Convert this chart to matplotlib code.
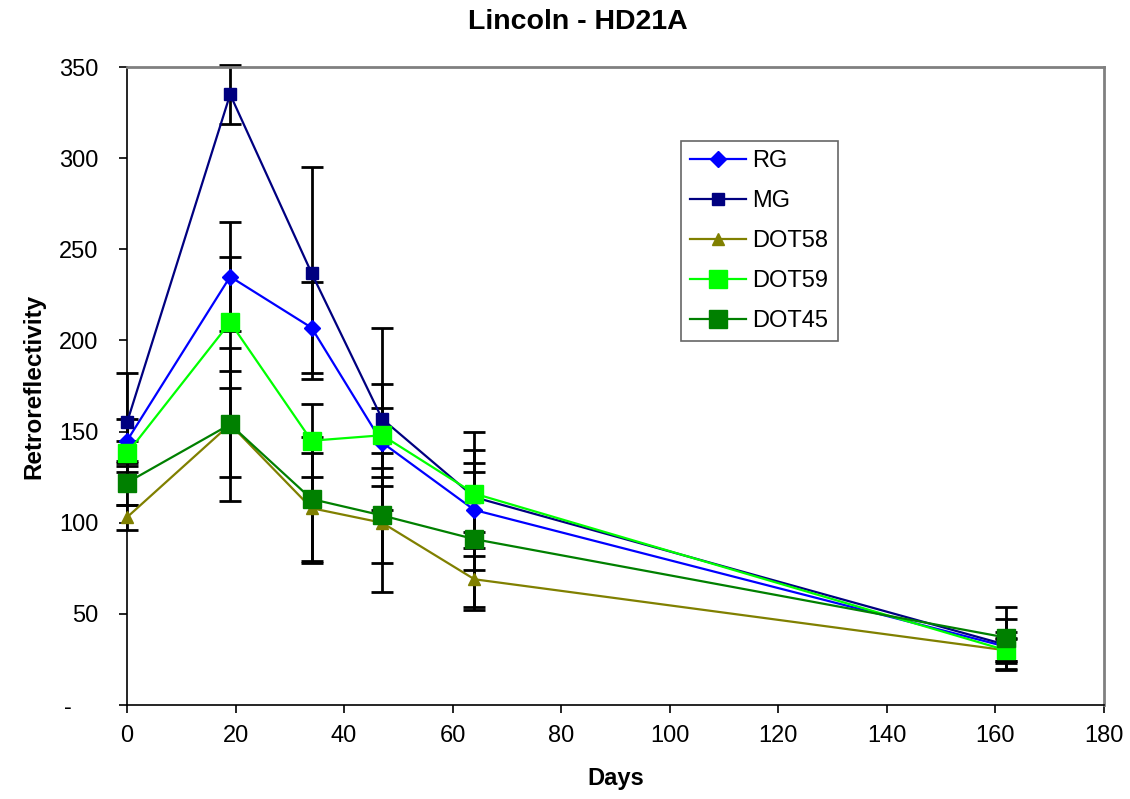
import matplotlib

matplotlib.use("Agg")

import matplotlib.pyplot as plt
from matplotlib.ticker import FuncFormatter

plt.rcParams["font.family"] = ["Liberation Sans", "DejaVu Sans"]

days = [0, 19, 34, 47, 64, 162]

rg = [145, 235, 207, 144, 107, 32]
mg = [155, 335, 237, 157, 114, 33]
dot58 = [103, 154, 108, 100, 69, 30]
dot59 = [138, 210, 145, 148, 116, 30]
dot45 = [122, 154, 113, 104, 91, 37]

rg_err = [12, 30, 25, 19, 33, 8]
mg_err = [27, 16, 58, 50, 19, 14]
dot58_err = [7, 29, 30, 38, 17, 7]
dot59_err = [7, 36, 20, 28, 34, 6]
dot45_err = [12, 42, 34, 26, 37, 17]

series = [
    ("RG", rg, rg_err, "#0000FF", "D", 8),
    ("MG", mg, mg_err, "#000080", "s", 8),
    ("DOT58", dot58, dot58_err, "#808000", "^", 9),
    ("DOT59", dot59, dot59_err, "#00FF00", "s", 13),
    ("DOT45", dot45, dot45_err, "#008000", "s", 13),
]

fig = plt.figure(figsize=(11.3, 7.99), dpi=100)
ax = fig.add_axes([0.1124, 0.1176, 0.8646, 0.7985])

# error bars first so the markers sit on top of them
for name, vals, err, color, marker, ms in series:
    ax.errorbar(days, vals, yerr=err, fmt="none", ecolor="black",
                elinewidth=2, capsize=8, capthick=2, zorder=2, clip_on=False)

for name, vals, err, color, marker, ms in series:
    ax.plot(days, vals, color=color, lw=1.6, marker=marker, ms=ms,
            mec=color, mfc=color, label=name, zorder=3, clip_on=False)

ax.set_xlim(0, 180)
ax.set_ylim(0, 350)
ax.set_xticks(range(0, 181, 20))
ax.set_yticks(range(0, 351, 50))
# Excel-style zero: a dash padded on the right
ax.yaxis.set_major_formatter(FuncFormatter(lambda v, p: "-    " if v == 0 else f"{int(v)}"))
ax.tick_params(axis="both", direction="out", length=5.5, width=1.2, labelsize=17)
ax.tick_params(axis="x", pad=9)
ax.tick_params(axis="y", pad=15)

for side in ["top", "right"]:
    ax.spines[side].set_color("#808080")
    ax.spines[side].set_linewidth(2)
for side in ["left", "bottom"]:
    ax.spines[side].set_color("black")
    ax.spines[side].set_linewidth(1.2)

fig.text(0.5115, 0.9725, "Lincoln - HD21A", fontsize=20.5, fontweight="bold",
         ha="center", va="center")
ax.set_xlabel("Days", fontsize=17, fontweight="bold", labelpad=14)
ax.set_ylabel("Retroreflectivity", fontsize=17.5, fontweight="bold", labelpad=10)

leg = ax.legend(loc="upper left", bbox_to_anchor=(0.567, 0.8845), fontsize=17,
                frameon=True, fancybox=False, edgecolor="#404040",
                handlelength=2.37, borderpad=0.4, labelspacing=0.76,
                handletextpad=0.25, borderaxespad=0)
leg.get_frame().set_linewidth(1.2)

fig.savefig("out.png", dpi=100)
